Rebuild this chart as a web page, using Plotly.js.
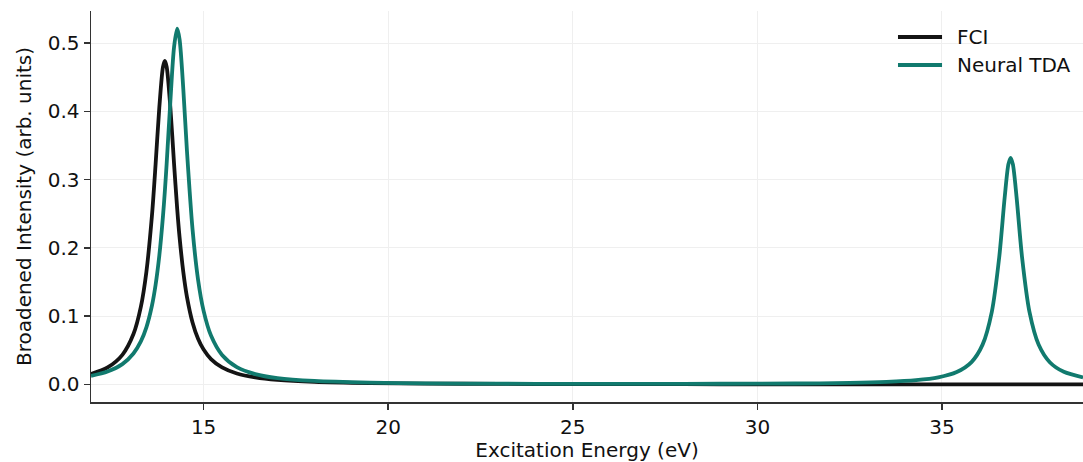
<!DOCTYPE html>
<html>
<head>
<meta charset="utf-8">
<script src="https://cdn.plot.ly/plotly-3.0.1.min.js"></script>
<style>
  html, body { margin: 0; padding: 0; background: #ffffff; }
  #chart { width: 1083px; height: 462px; }
</style>
</head>
<body>
<div id="chart"></div>
<script>
// Excitation energy grid (eV), shared by both spectra
const energy = [
  11.95, 12.4, 12.8, 13.1, 13.3, 13.45, 13.6, 13.7, 13.8, 13.9, 13.95, 14.0,
  14.1, 14.2, 14.285, 14.35, 14.45, 14.55, 14.7, 14.85, 15.0, 15.2, 15.5,
  15.9, 16.4, 17.0, 18.0, 19.5, 21.0, 23.0, 25.0, 27.0, 29.0, 31.0, 32.5,
  33.5, 34.3, 34.9, 35.4, 35.8, 36.1, 36.35, 36.55, 36.7, 36.8, 36.86,
  36.92, 37.02, 37.17, 37.37, 37.62, 37.92, 38.3, 38.82
];

// Broadened intensity, FCI reference
const fciIntensity = [
  0.0153, 0.0249, 0.0434, 0.0738, 0.1136, 0.1648, 0.2469, 0.3226, 0.4055, 0.4653, 0.4740, 0.4653,
  0.4055, 0.3226, 0.2573, 0.2153, 0.1648, 0.1280, 0.0908, 0.0669, 0.0511, 0.0372, 0.0249,
  0.0160, 0.0103, 0.0067, 0.0038, 0.0020, 0.0013, 0.0008, 0.0005, 0.0004, 0.0003, 0.0002, 0.0002,
  0.0002, 0.0002, 0.0001, 0.0001, 0.0001, 0.0001, 0.0001, 0.0001, 0.0001, 0.0001, 0.0001,
  0.0001, 0.0001, 0.0001, 0.0001, 0.0001, 0.0001, 0.0001, 0.0001
];

// Broadened intensity, Neural TDA
const tdaIntensity = [
  0.0125, 0.0189, 0.0298, 0.0453, 0.0630, 0.0837, 0.1153, 0.1461, 0.1885, 0.2467, 0.2829, 0.3238,
  0.4147, 0.4943, 0.5210, 0.5051, 0.4327, 0.3413, 0.2273, 0.1535, 0.1078, 0.0716, 0.0432,
  0.0254, 0.0152, 0.0093, 0.0051, 0.0027, 0.0017, 0.0011, 0.0009, 0.0009, 0.0010, 0.0014, 0.0023,
  0.0038, 0.0063, 0.0104, 0.0182, 0.0328, 0.0583, 0.1064, 0.1861, 0.2747, 0.3226, 0.3320,
  0.3226, 0.2746, 0.1860, 0.1063, 0.0581, 0.0326, 0.0185, 0.0103
];

const seriesNames = ['FCI', 'Neural TDA'];
const seriesColors = ['#141414', '#117a6e'];

const xTicks = [15, 20, 25, 30, 35];
const yTicks = [0.0, 0.1, 0.2, 0.3, 0.4, 0.5];

const font = 'DejaVu Sans, Liberation Sans, sans-serif';
const textSize = 20;
const lineWidth = 3.8;

const traces = [fciIntensity, tdaIntensity].map((y, i) => ({
  type: 'scatter',
  mode: 'lines',
  name: seriesNames[i],
  x: energy,
  y: y,
  line: { color: seriesColors[i], width: lineWidth, shape: 'spline', smoothing: 0.8 }
}));

// Frameless legend in the upper right: a short line sample plus a label per series
const legendRows = [0.9335, 0.8619];
const legendShapes = seriesNames.map((name, i) => ({
  type: 'line', xref: 'paper', yref: 'paper',
  x0: 0.8135, x1: 0.8579, y0: legendRows[i], y1: legendRows[i],
  line: { color: seriesColors[i], width: lineWidth }
}));
const legendLabels = seriesNames.map((name, i) => ({
  xref: 'paper', yref: 'paper', x: 0.871, y: legendRows[i],
  xanchor: 'left', yanchor: 'middle', showarrow: false,
  text: name, font: { family: font, size: textSize, color: '#111111' }
}));

const axisCommon = {
  showline: true,
  linecolor: '#333333',
  linewidth: 1.5,
  ticks: 'outside',
  ticklen: 6,
  tickwidth: 1.5,
  tickcolor: '#333333',
  showgrid: true,
  gridcolor: '#efefef',
  gridwidth: 1,
  zeroline: false,
  tickfont: { family: font, size: textSize, color: '#111111' }
};

const layout = {
  width: 1083,
  height: 462,
  margin: { l: 91, r: 0, t: 11, b: 60 },
  paper_bgcolor: '#ffffff',
  plot_bgcolor: '#ffffff',
  font: { family: font, color: '#111111' },
  showlegend: false,
  shapes: legendShapes,
  annotations: legendLabels,
  xaxis: Object.assign({}, axisCommon, {
    range: [11.95, 38.82],
    tickvals: xTicks,
    ticktext: xTicks.map(String),
    title: { text: 'Excitation Energy (eV)', font: { family: font, size: textSize, color: '#111111' }, standoff: 9 }
  }),
  yaxis: Object.assign({}, axisCommon, {
    range: [-0.0257, 0.547],
    tickvals: yTicks,
    ticktext: yTicks.map(v => v.toFixed(1)),
    title: { text: 'Broadened Intensity (arb. units)', font: { family: font, size: textSize, color: '#111111' }, standoff: 10 }
  })
};

Plotly.newPlot('chart', traces, layout, { staticPlot: true, displayModeBar: false });
</script>
</body>
</html>
